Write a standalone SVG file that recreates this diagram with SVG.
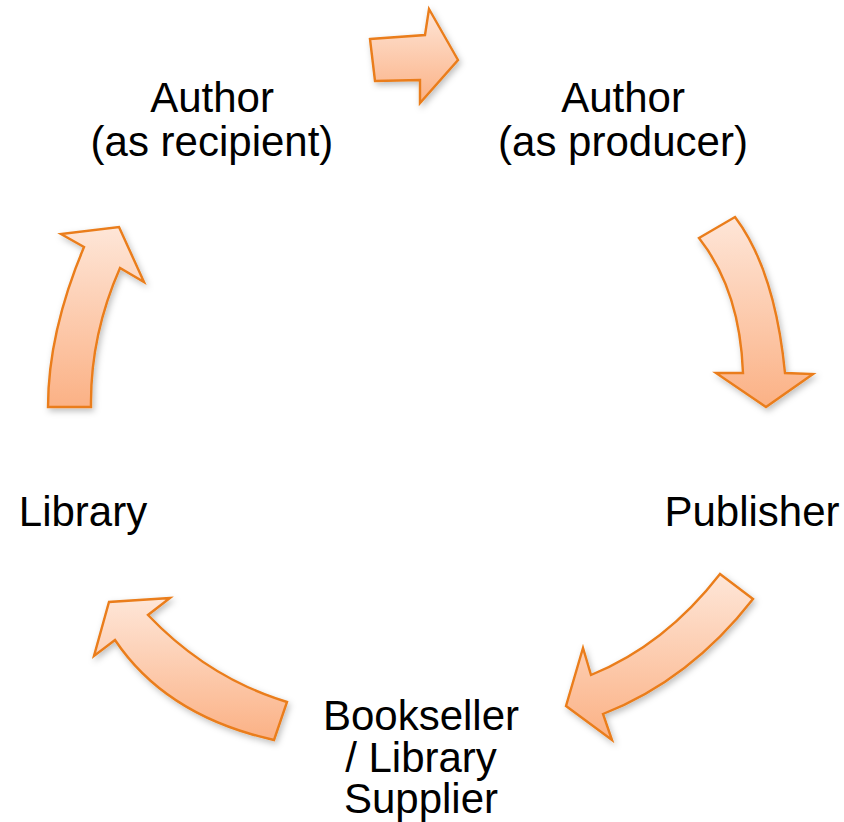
<svg xmlns="http://www.w3.org/2000/svg" width="844" height="822" viewBox="0 0 844 822">
  <defs>
    <linearGradient id="fillGrad" x1="0" y1="0" x2="0" y2="1">
      <stop offset="0" stop-color="#fee6d8"/>
      <stop offset="1" stop-color="#fbb185"/>
    </linearGradient>
    <filter id="shadow" x="-20%" y="-20%" width="140%" height="140%">
      <feDropShadow dx="2" dy="3" stdDeviation="3" flood-color="#000" flood-opacity="0.25"/>
    </filter>
    <style>
      .arrow { fill: url(#fillGrad); stroke: #ea7d1a; stroke-width: 2.4; stroke-linejoin: miter; filter: url(#shadow); }
      .label { font-family: "Liberation Sans", Arial, sans-serif; font-size: 42px; fill: #000; text-anchor: middle; }
    </style>
  </defs>
  <rect width="844" height="822" fill="#fff"/>

  <g id="connectors">
    <path id="arrow-top" class="arrow" d="M370,39 L425,35 L429,9 L458,60 L420,103 L420,80 L375,81 Z"/>
    <path id="arrow-right" class="arrow" d="M699,238 L735,217 Q775,270 785,373 L813,374 L766,407 L716,373 L743,373 Q740,290 699,238 Z"/>
    <path id="arrow-bottom-right" class="arrow" d="M720,574 L753,599 Q690,680 603,714 L612,740 L566,706 L583,648 L591,675 Q665,645 720,574 Z"/>
    <path id="arrow-bottom-left" class="arrow" d="M274,740 L287,702 Q208,678 148,615 L170,598 L109,602 L94,656 L115,640 Q166,716 274,740 Z"/>
    <path id="arrow-left" class="arrow" d="M48,407 L91,407 Q90,336 120,268 L144,282 L119,227 L61,234 L84,247 Q48,333 48,407 Z"/>
  </g>

  <g id="node-author-recipient">
    <text class="label" x="212" y="112">Author</text>
    <text class="label" x="212" y="156">(as recipient)</text>
  </g>
  <g id="node-author-producer">
    <text class="label" x="623" y="112">Author</text>
    <text class="label" x="623" y="156">(as producer)</text>
  </g>
  <g id="node-publisher">
    <text class="label" x="752" y="526">Publisher</text>
  </g>
  <g id="node-bookseller">
    <text class="label" x="421" y="730">Bookseller</text>
    <text class="label" x="421" y="772">/ Library</text>
    <text class="label" x="421" y="813">Supplier</text>
  </g>
  <g id="node-library">
    <text class="label" x="83" y="526">Library</text>
  </g>
</svg>
